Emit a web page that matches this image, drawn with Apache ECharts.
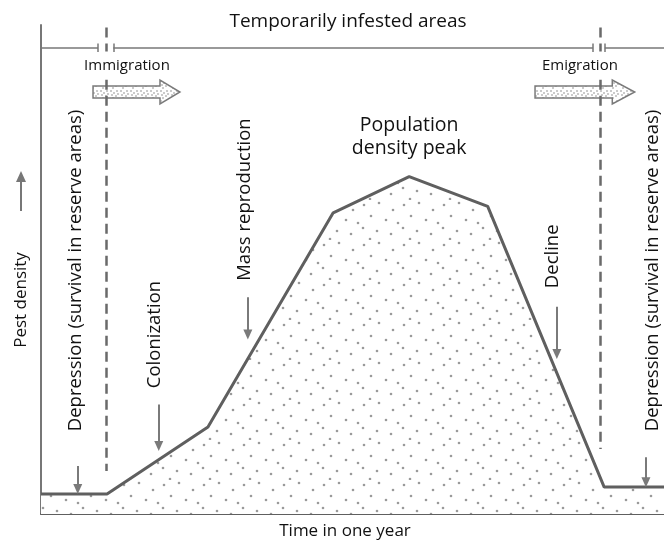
<!DOCTYPE html>
<html>
<head>
<meta charset="utf-8">
<script src="https://cdn.jsdelivr.net/npm/echarts@6/dist/echarts.min.js"></script>
<style>
  html, body { margin: 0; padding: 0; background: #fff; }
  #chart { width: 664px; height: 542px; }
</style>
</head>
<body>
<div id="chart"></div>
<script>
// curve of pest density over one year (x: time 0-100, y: density 0-100)
var timeX = [0, 10.6, 26.8, 46.9, 59.1, 71.7, 90.4, 100];
var density = [4.1, 4.1, 17.8, 61.6, 69.0, 62.9, 5.5, 5.5];

// migration boundaries (dashed lines)
var boundaryX = [10.4, 89.7];
var boundaryBottom = [8.8, 13.3];

// phase labels: text, x, centre y, arrow top, arrow bottom
var phaseText = ['Depression (survival in reserve areas)', 'Colonization', 'Mass reproduction', 'Decline', 'Depression (survival in reserve areas)'];
var phaseX = [5.6, 18.3, 32.7, 82.2, 98.2];
var phaseArrowX = [5.9, 18.9, 33.2, 82.8, 97.1];
var phaseMid = [49.8, 36.7, 64.3, 52.7, 49.8];
var phaseArrowTop = [9.8, 22.4, 44.3, 42.4, 11.6];
var phaseArrowBottom = [5.1, 13.9, 36.7, 32.7, 6.5];

var chart = echarts.init(document.getElementById('chart'));
var ink = '#5f5f5f';

// stipple pattern for the filled area
function stipple(size, dots, col) {
  var cv = document.createElement('canvas');
  cv.width = cv.height = size;
  var ctx = cv.getContext('2d');
  ctx.fillStyle = '#fff';
  ctx.fillRect(0, 0, size, size);
  ctx.fillStyle = col;
  dots.forEach(function (d) {
    ctx.beginPath();
    ctx.arc(d[0], d[1], d[2] || 1.3, 0, Math.PI * 2);
    ctx.fill();
  });
  return cv;
}
var areaDots = [[4,5],[19,3],[33,10],[11,16],[26,20],[3,28],[17,31],[31,34],[38,23],[10,39]];
var arrowDots = [[1,1,0.8],[4,3,0.8],[7,1,0.8],[2,5,0.8],[6,6,0.8],[3,8,0.8],[8,4,0.8]];

var topY = 95.3;
var topSegs = [[0, 9.15], [11.6, 88.6], [90.5, 100]];
var tickEnds = [9.15, 11.6, 88.6, 90.5];

var lines = [];
topSegs.forEach(function (s) {
  lines.push([{coord: [s[0], topY], symbol: 'none'}, {coord: [s[1], topY], symbol: 'none'}]);
});
tickEnds.forEach(function (x) {
  lines.push([{coord: [x, topY - 0.8], symbol: 'none'}, {coord: [x, topY + 0.9], symbol: 'none'}]);
});
boundaryX.forEach(function (x, i) {
  var dash = {type: [10, 6], width: 2.5, color: '#6a6a6a'};
  lines.push([{coord: [x, 99.5], symbol: 'none', lineStyle: dash}, {coord: [x, 94.6], symbol: 'none'}]);
  lines.push([{coord: [x, 88.8], symbol: 'none', lineStyle: dash}, {coord: [x, boundaryBottom[i]], symbol: 'none'}]);
});
phaseArrowX.forEach(function (x, i) {
  lines.push([
    {coord: [x, phaseArrowTop[i]], symbol: 'none', lineStyle: {width: 2, color: '#7a7a7a'}},
    {coord: [x, phaseArrowBottom[i]], symbol: 'triangle', symbolSize: [9, 10], symbolRotate: 180}
  ]);
});

chart.setOption({
  animation: false,
  grid: {left: 41, right: 0, top: 25, bottom: 28},
  xAxis: {
    type: 'value', min: 0, max: 100,
    axisLine: {lineStyle: {color: ink, width: 2}},
    axisTick: {show: false}, axisLabel: {show: false}, splitLine: {show: false}
  },
  yAxis: {
    type: 'value', min: 0, max: 100,
    axisLine: {show: true, lineStyle: {color: '#777', width: 2}},
    axisTick: {show: false}, axisLabel: {show: false}, splitLine: {show: false}
  },
  series: [{
    type: 'line',
    data: timeX.map(function (x, i) { return [x, density[i]]; }),
    symbol: 'none',
    silent: true,
    lineStyle: {color: ink, width: 3},
    areaStyle: {color: {image: stipple(40, areaDots, '#9a9a9a'), repeat: 'repeat'}, opacity: 1},
    markLine: {
      silent: true,
      animation: false,
      label: {show: false},
      lineStyle: {color: '#777', width: 1.5, type: 'solid'},
      data: lines
    }
  }]
});

function px(x, y) { return chart.convertToPixel({gridIndex: 0}, [x, y]); }

var font = '"Open Sans", Lato, sans-serif';
var g = [];

phaseText.forEach(function (t, i) {
  var p = px(phaseX[i], phaseMid[i]);
  g.push({type: 'text', x: p[0], y: p[1], rotation: Math.PI / 2,
    style: {text: t, font: '18.5px ' + font, fill: '#111', align: 'center', verticalAlign: 'middle'}});
});

// axis-like titles
g.push({type: 'text', x: 348, y: 22, style: {text: 'Temporarily infested areas', font: '19px ' + font, fill: '#111', align: 'center', verticalAlign: 'middle'}});
g.push({type: 'text', x: 345, y: 531, style: {text: 'Time in one year', font: '17px ' + font, fill: '#111', align: 'center', verticalAlign: 'middle'}});
g.push({type: 'text', x: 21, y: 300, rotation: Math.PI / 2, style: {text: 'Pest density', font: '17px ' + font, fill: '#111', align: 'center', verticalAlign: 'middle'}});
g.push({type: 'polyline', shape: {points: [[21, 211], [21, 176]]}, style: {stroke: '#777', lineWidth: 2}});
g.push({type: 'polygon', shape: {points: [[16, 182], [21, 171], [26, 182]]}, style: {fill: '#777'}});

var peak = px(59.1, 69.0);
g.push({type: 'text', x: peak[0], y: 137, style: {text: 'Population\ndensity peak', font: '19.5px ' + font, fill: '#111', align: 'center', verticalAlign: 'middle', lineHeight: 23}});

// migration block arrows
var migText = ['Immigration', 'Emigration'];
var migTail = [8.35, 79.3], migNeck = [19.1, 91.7], migTip = [22.3, 95.3];
var migTextX = [13.8, 86.5];
var pat = {image: stipple(10, arrowDots, '#8a8a8a'), repeat: 'repeat'};
migText.forEach(function (t, i) {
  var a = px(migTail[i], 86.3), b = px(migNeck[i], 86.3), c = px(migTip[i], 86.3);
  var y = a[1];
  g.push({type: 'polygon', shape: {points: [
    [a[0], y - 6], [b[0], y - 6], [b[0], y - 12], [c[0], y], [b[0], y + 12], [b[0], y + 6], [a[0], y + 6]
  ]}, style: {fill: pat, stroke: '#7a7a7a', lineWidth: 1.5}});
  var tp = px(migTextX[i], 86.3);
  g.push({type: 'text', x: tp[0], y: 66, style: {text: t, font: '15px ' + font, fill: '#111', align: 'center', verticalAlign: 'middle'}});
});

chart.setOption({graphic: g});
</script>
</body>
</html>
